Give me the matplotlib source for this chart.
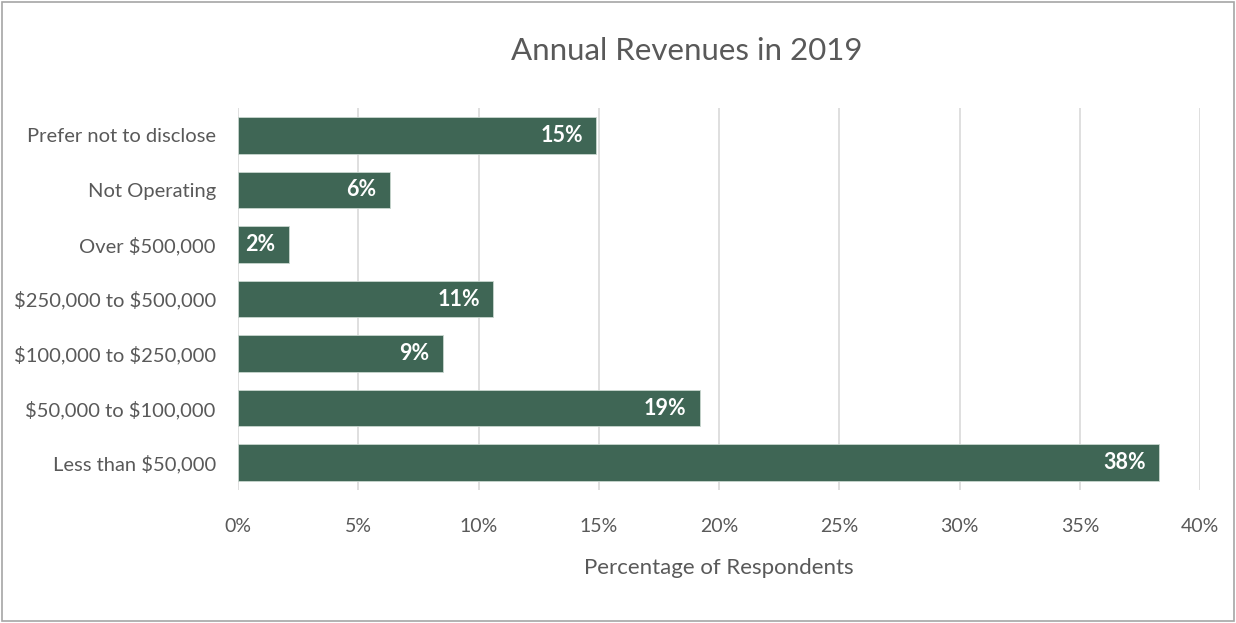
import numpy as np
from matplotlib import pyplot as plt
from matplotlib.ticker import PercentFormatter

categories = ["Less than \\$50,000", "\\$50,000 to \\$100,000", "\\$100,000 to \\$250,000",
              "\\$250,000 to \\$500,000", "Over \\$500,000", "Not Operating", "Prefer not to disclose"]
shares = [38.3, 19.2, 8.5, 10.6, 2.1, 6.3, 14.9]
labels = ["38%", "19%", "9%", "11%", "2%", "6%", "15%"]
x_ticks = [0, 5, 10, 15, 20, 25, 30, 35, 40]

plt.rcParams['font.family'] = ['Lato', 'DejaVu Sans']
text_color = "#595959"
bar_color = "#3f6655"

fig = plt.figure(figsize=(12.36, 6.23), dpi=100)
ax = fig.add_axes([0.1926, 0.2135, 0.7784, 0.6131])

y = np.arange(len(categories))
ax.barh(y, shares, height=0.67, color=bar_color, edgecolor="#c9d6cf", linewidth=0.6, zorder=3)
for yi, val, lab in zip(y, shares, labels):
    ax.text(val - 0.55, yi, lab, ha="right", va="center", color="white",
            fontsize=15.5, fontweight="bold", zorder=4)

ax.set_xlim(0, 40)
ax.set_ylim(-0.5, len(categories) - 0.5)
ax.set_xticks(x_ticks)
ax.xaxis.set_major_formatter(PercentFormatter(decimals=0))
ax.set_yticks(y)
ax.set_yticklabels(categories)
ax.tick_params(axis="x", length=0, labelsize=14, colors=text_color, pad=20)
ax.tick_params(axis="y", length=0, labelsize=14.5, colors=text_color, pad=16)
ax.grid(axis="x", color="#d9d9d9", linewidth=1.2, zorder=0)
for s in ax.spines.values():
    s.set_visible(False)

ax.set_xlabel("Percentage of Respondents", fontsize=16, color=text_color, labelpad=17)
fig.text(0.556, 0.918, "Annual Revenues in 2019", ha="center", va="center",
         fontsize=22.5, color=text_color)

# thin frame around the whole chart
fig.patches.append(plt.Rectangle((0.002, 0.003), 0.996, 0.994, transform=fig.transFigure,
                                 fill=False, edgecolor="#a6a6a6", linewidth=1.2))

plt.savefig("out.png", dpi=100)
